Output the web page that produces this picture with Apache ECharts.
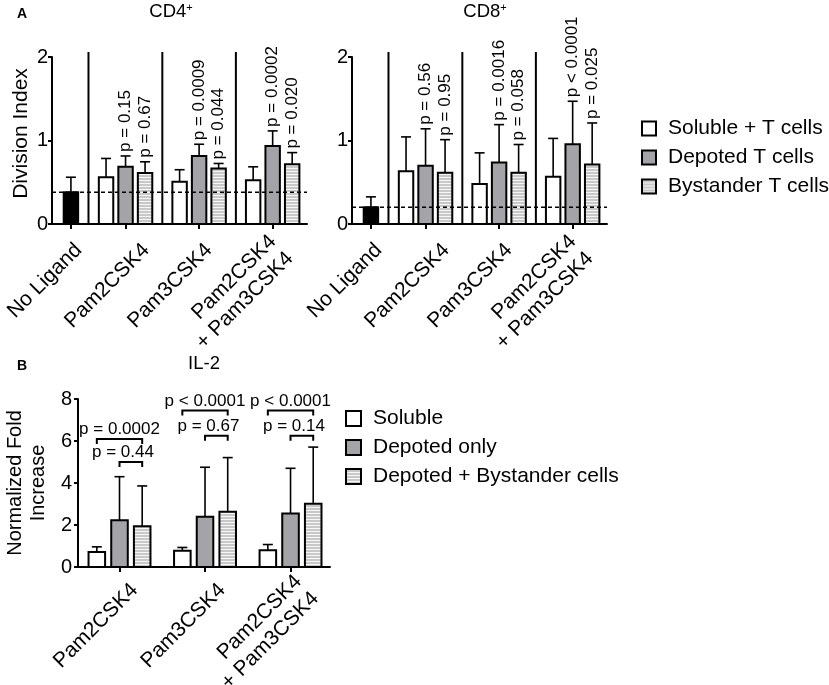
<!DOCTYPE html>
<html>
<head>
<meta charset="utf-8">
<script src="https://cdn.jsdelivr.net/npm/echarts@6.0.0/dist/echarts.min.js"></script>
<style>
html,body{margin:0;padding:0;background:#fff;}
#main{width:829px;height:685px;}
</style>
</head>
<body>
<div id="main"></div>
<script>
// 分组名称
var groupsA = ['Pam2CSK4', 'Pam3CSK4', 'Pam2CSK4\n+ Pam3CSK4'];
var groupsB = ['Pam2CSK4', 'Pam3CSK4', 'Pam2CSK4\n+ Pam3CSK4'];
var noLigandName = 'No Ligand';
var seriesNamesA = ['Soluble + T cells', 'Depoted T cells', 'Bystander T cells'];
var seriesNamesB = ['Soluble', 'Depoted only', 'Depoted + Bystander cells'];

// CD4+ division index: mean / sd
var cd4NoLigand = [0.38, 0.18];
var cd4Soluble = [0.56, 0.505, 0.525];
var cd4SolubleSd = [0.225, 0.145, 0.16];
var cd4Depoted = [0.685, 0.815, 0.935];
var cd4DepotedSd = [0.13, 0.14, 0.18];
var cd4Bystander = [0.61, 0.665, 0.715];
var cd4BystanderSd = [0.135, 0.06, 0.14];
var cd4Baseline = 0.38;
var cd4PDepoted = ['p = 0.15', 'p = 0.0009', 'p = 0.0002'];
var cd4PBystander = ['p = 0.67', 'p = 0.044', 'p = 0.020'];

// CD8+ division index
var cd8NoLigand = [0.2, 0.125];
var cd8Soluble = [0.633, 0.478, 0.565];
var cd8SolubleSd = [0.41, 0.374, 0.46];
var cd8Depoted = [0.697, 0.737, 0.956];
var cd8DepotedSd = [0.443, 0.453, 0.514];
var cd8Bystander = [0.613, 0.613, 0.713];
var cd8BystanderSd = [0.397, 0.339, 0.497];
var cd8Baseline = 0.2;
var cd8PDepoted = ['p = 0.56', 'p = 0.0016', 'p < 0.0001'];
var cd8PBystander = ['p = 0.95', 'p = 0.058', 'p = 0.025'];

// IL-2 normalized fold increase
var il2Soluble = [0.71, 0.77, 0.8];
var il2SolubleSd = [0.25, 0.16, 0.27];
var il2Depoted = [2.23, 2.39, 2.55];
var il2DepotedSd = [2.07, 2.36, 2.15];
var il2Bystander = [1.94, 2.63, 3.01];
var il2BystanderSd = [1.92, 2.58, 2.7];
var il2POuter = ['p = 0.0002', 'p < 0.0001', 'p < 0.0001'];
var il2PInner = ['p = 0.44', 'p = 0.67', 'p = 0.14'];
var il2BracketOuter = [6.1, 7.45, 7.45];
var il2BracketInner = [5.0, 6.25, 6.25];

var FONT = '"Liberation Sans", Arial, sans-serif';
var GRAY = '#a4a4a8';

// 条纹填充
var stripeCanvas = document.createElement('canvas');
stripeCanvas.width = 4;
stripeCanvas.height = 3;
var sctx = stripeCanvas.getContext('2d');
sctx.fillStyle = '#c8c8c8';
sctx.fillRect(0, 0, 4, 3);
sctx.fillStyle = '#f6f6f6';
sctx.fillRect(0, 0, 4, 1);
var STRIPE = {image: stripeCanvas, repeat: 'repeat'};

var fills = ['#ffffff', GRAY, STRIPE];

// 组中心位置
var groupStep = 3.77;
var centersA = [2.8, 2.8 + groupStep, 2.8 + 2 * groupStep];
var centersB = [0, groupStep, 2 * groupStep];
// 斜标签相对刻度的偏移
var labelShiftA = [0.4, 1.05, 0.5, 0.45];
var labelShiftB = [0.67, 0.76, 0.72];

/**
 * 柱子 + 误差线
 */
function barItem(fill, widthUnits, cap) {
	return function(params, api) {
		var x = api.value(0), m = api.value(1), sd = api.value(2);
		var base = api.coord([x, 0]);
		var top = api.coord([x, m]);
		var errTop = api.coord([x, m + sd]);
		var w = api.size([widthUnits, 0])[0];
		return {
			type: 'group',
			children: [
				{type: 'line', shape: {x1: top[0], y1: top[1], x2: errTop[0], y2: errTop[1]}, style: {stroke: '#000', lineWidth: 1.6}},
				{type: 'line', shape: {x1: errTop[0] - cap, y1: errTop[1], x2: errTop[0] + cap, y2: errTop[1]}, style: {stroke: '#000', lineWidth: 1.6}},
				{type: 'rect', shape: {x: top[0] - w / 2, y: top[1], width: w, height: base[1] - top[1]}, style: {fill: fill, stroke: '#000', lineWidth: 2}}
			]
		};
	};
}

function barSeries(name, idx, fill, means, sds, centers, offset, widthUnits) {
	var data = [];
	for (var i = 0; i < means.length; i++) {
		data.push([centers[i] + offset, means[i], sds[i]]);
	}
	return {
		type: 'custom', name: name, xAxisIndex: idx, yAxisIndex: idx, z: 2,
		itemStyle: {color: fill, borderColor: '#000', borderWidth: 2},
		encode: {x: 0, y: 1},
		renderItem: barItem(fill, widthUnits, 5),
		data: data
	};
}

function separatorSeries(idx, centers) {
	var seps = [(0 + centers[0] - 1) / 2];
	for (var i = 1; i < centers.length; i++) {
		seps.push((centers[i - 1] + 1 + centers[i] - 1) / 2);
	}
	return {
		type: 'custom', xAxisIndex: idx, yAxisIndex: idx, z: 3,
		encode: {x: 0},
		renderItem: function(params, api) {
			var p0 = api.coord([api.value(0), 0]);
			var p1 = api.coord([api.value(0), 2.06]);
			return {type: 'line', shape: {x1: p0[0], y1: p0[1], x2: p1[0], y2: p1[1]}, style: {stroke: '#000', lineWidth: 2}};
		},
		data: seps.map(function(v) { return [v]; })
	};
}

function baselineSeries(idx, value) {
	return {
		type: 'custom', xAxisIndex: idx, yAxisIndex: idx, z: 6,
		encode: {y: 1},
		renderItem: function(params, api) {
			var cs = params.coordSys;
			var p = api.coord([0, api.value(1)]);
			return {type: 'line', shape: {x1: cs.x, y1: p[1], x2: cs.x + cs.width, y2: p[1]},
				style: {stroke: '#000', lineWidth: 1.5, lineDash: [4, 3]}};
		},
		data: [[0, value]]
	};
}

function pLabelSeries(idx, centers, dep, depSd, bys, bysSd, pDep, pBys) {
	var data = [], texts = [];
	for (var i = 0; i < centers.length; i++) {
		data.push([centers[i], dep[i] + depSd[i]]);
		texts.push(pDep[i]);
		data.push([centers[i] + 1, bys[i] + bysSd[i]]);
		texts.push(pBys[i]);
	}
	return {
		type: 'custom', xAxisIndex: idx, yAxisIndex: idx, z: 4,
		encode: {x: 0, y: 1},
		renderItem: function(params, api) {
			var p = api.coord([api.value(0), api.value(1)]);
			return {
				type: 'text', x: p[0], y: p[1] - 4, rotation: Math.PI / 2,
				style: {text: texts[params.dataIndex], fill: '#000', fontSize: 17, fontFamily: FONT,
					align: 'left', verticalAlign: 'middle'}
			};
		},
		data: data
	};
}

function bracketSeries(centers) {
	var data = [], texts = [];
	for (var i = 0; i < centers.length; i++) {
		data.push([centers[i] - 1, centers[i] + 1, il2BracketOuter[i], centers[i]]);
		texts.push(il2POuter[i]);
		data.push([centers[i], centers[i] + 1, il2BracketInner[i], centers[i] + 0.15]);
		texts.push(il2PInner[i]);
	}
	return {
		type: 'custom', xAxisIndex: 2, yAxisIndex: 2, z: 4,
		encode: {x: [0, 1], y: 2},
		renderItem: function(params, api) {
			var a = api.coord([api.value(0), api.value(2)]);
			var b = api.coord([api.value(1), api.value(2)]);
			var t = api.coord([api.value(3), api.value(2)]);
			var tick = 5;
			return {
				type: 'group',
				children: [
					{type: 'polyline', shape: {points: [[a[0], a[1] + tick], [a[0], a[1]], [b[0], b[1]], [b[0], b[1] + tick]]},
						style: {stroke: '#000', lineWidth: 2, fill: null}},
					{type: 'text', x: t[0], y: a[1] - 1,
						style: {text: texts[params.dataIndex], fill: '#000', fontSize: 17, fontFamily: FONT,
							align: 'center', verticalAlign: 'bottom'}}
				]
			};
		},
		data: data
	};
}

function labelFormatter(values, names) {
	return function(v) {
		for (var i = 0; i < values.length; i++) {
			if (Math.abs(values[i] - v) < 1e-6) return names[i];
		}
		return '';
	};
}

var tickA = [0].concat(centersA);
var labelPosA = tickA.map(function(v, i) { return v + labelShiftA[i]; });
var namesA = [noLigandName].concat(groupsA);
var labelPosB = centersB.map(function(v, i) { return v + labelShiftB[i]; });

function xAxisA(gridIndex) {
	return {
		type: 'value', gridIndex: gridIndex, min: -0.97, max: 12.1,
		axisLine: {show: true, onZero: false, lineStyle: {color: '#000', width: 2}},
		axisTick: {show: true, customValues: tickA, length: 5, lineStyle: {color: '#000', width: 2}},
		axisLabel: {customValues: labelPosA, rotate: 45, margin: 23, fontSize: 21, fontFamily: FONT, color: '#000',
			lineHeight: 24, formatter: labelFormatter(labelPosA, namesA)},
		splitLine: {show: false}
	};
}

function yAxisA(gridIndex, withName) {
	return {
		type: 'value', gridIndex: gridIndex, min: 0, max: 2, interval: 1,
		name: withName ? 'Division Index' : '', nameLocation: 'middle', nameGap: 20,
		nameTextStyle: {fontSize: 21, fontFamily: FONT, color: '#000', padding: [0, 0, 0, 14]},
		axisLine: {show: true, onZero: false, lineStyle: {color: '#000', width: 2}},
		axisTick: {show: true, length: 4, lineStyle: {color: '#000', width: 2}},
		axisLabel: {margin: 4, fontSize: 20, fontFamily: FONT, color: '#000'},
		splitLine: {show: false}
	};
}

var dom = document.getElementById('main');
var myChart = echarts.init(dom, null, {renderer: 'canvas'});

var option = {
	animation: false,
	textStyle: {fontFamily: FONT, color: '#000'},
	grid: [
		{left: 52, top: 57, width: 255, height: 167, outerBoundsMode: 'none', containLabel: false},
		{left: 352, top: 57, width: 255, height: 167, outerBoundsMode: 'none', containLabel: false},
		{left: 78, top: 399, width: 252, height: 168, outerBoundsMode: 'none', containLabel: false}
	],
	xAxis: [
		xAxisA(0),
		xAxisA(1),
		{
			type: 'value', gridIndex: 2, min: -1.83, max: 9.28,
			axisLine: {show: true, onZero: false, lineStyle: {color: '#000', width: 2}},
			axisTick: {show: true, customValues: centersB, length: 5, lineStyle: {color: '#000', width: 2}},
			axisLabel: {customValues: labelPosB, rotate: 45, margin: 20, fontSize: 21, fontFamily: FONT, color: '#000',
				lineHeight: 24, formatter: labelFormatter(labelPosB, groupsB)},
			splitLine: {show: false}
		}
	],
	yAxis: [
		yAxisA(0, true),
		yAxisA(1, false),
		{
			type: 'value', gridIndex: 2, min: 0, max: 8, interval: 2,
			name: 'Normalized Fold\nIncrease', nameLocation: 'middle', nameGap: 28,
			nameTextStyle: {fontSize: 20, fontFamily: FONT, color: '#000', lineHeight: 23},
			axisLine: {show: true, onZero: false, lineStyle: {color: '#000', width: 2}},
			axisTick: {show: true, length: 4, lineStyle: {color: '#000', width: 2}},
			axisLabel: {margin: 6, fontSize: 20, fontFamily: FONT, color: '#000'},
			splitLine: {show: false}
		}
	],
	legend: [
		{
			orient: 'vertical', left: 641, top: 118, padding: 0, itemWidth: 14, itemHeight: 14, itemGap: 8,
			selectedMode: false, icon: 'rect',
			textStyle: {fontSize: 21, fontFamily: FONT, color: '#000', padding: [0, 0, 0, 7]},
			data: seriesNamesA.map(function(n, i) {
				return {name: n, itemStyle: {color: fills[i], borderColor: '#000', borderWidth: 2}};
			})
		},
		{
			orient: 'vertical', left: 345, top: 408, padding: 0, itemWidth: 15, itemHeight: 15, itemGap: 8,
			selectedMode: false, icon: 'rect',
			textStyle: {fontSize: 21, fontFamily: FONT, color: '#000', padding: [0, 0, 0, 7]},
			data: seriesNamesB.map(function(n, i) {
				return {name: n, itemStyle: {color: fills[i], borderColor: '#000', borderWidth: 2}};
			})
		}
	],
	graphic: [
		{type: 'text', x: 22, y: 14, style: {text: 'A', fontSize: 14, fontWeight: 'bold', fontFamily: FONT, fill: '#000', align: 'center', verticalAlign: 'middle'}},
		{type: 'text', x: 22, y: 366, style: {text: 'B', fontSize: 14, fontWeight: 'bold', fontFamily: FONT, fill: '#000', align: 'center', verticalAlign: 'middle'}},
		{type: 'text', x: 171, y: 12, style: {text: '{m|CD4}{s|+}', align: 'center', verticalAlign: 'middle', fill: '#000',
			rich: {m: {fontSize: 18.5, fontFamily: FONT}, s: {fontSize: 11, fontFamily: FONT, verticalAlign: 'top'}}}},
		{type: 'text', x: 485, y: 12, style: {text: '{m|CD8}{s|+}', align: 'center', verticalAlign: 'middle', fill: '#000',
			rich: {m: {fontSize: 18.5, fontFamily: FONT}, s: {fontSize: 11, fontFamily: FONT, verticalAlign: 'top'}}}},
		{type: 'text', x: 204, y: 364, style: {text: 'IL-2', fontSize: 18.5, fontFamily: FONT, fill: '#000', align: 'center', verticalAlign: 'middle'}}
	],
	series: [
		// CD4+
		{
			type: 'custom', xAxisIndex: 0, yAxisIndex: 0, z: 2, encode: {x: 0, y: 1},
			renderItem: barItem('#000', 0.74, 5), data: [[0, cd4NoLigand[0], cd4NoLigand[1]]]
		},
		barSeries(seriesNamesA[0], 0, fills[0], cd4Soluble, cd4SolubleSd, centersA, -1, 0.74),
		barSeries(seriesNamesA[1], 0, fills[1], cd4Depoted, cd4DepotedSd, centersA, 0, 0.74),
		barSeries(seriesNamesA[2], 0, fills[2], cd4Bystander, cd4BystanderSd, centersA, 1, 0.74),
		separatorSeries(0, centersA),
		baselineSeries(0, cd4Baseline),
		pLabelSeries(0, centersA, cd4Depoted, cd4DepotedSd, cd4Bystander, cd4BystanderSd, cd4PDepoted, cd4PBystander),
		// CD8+
		{
			type: 'custom', xAxisIndex: 1, yAxisIndex: 1, z: 2, encode: {x: 0, y: 1},
			renderItem: barItem('#000', 0.74, 5), data: [[0, cd8NoLigand[0], cd8NoLigand[1]]]
		},
		barSeries(seriesNamesA[0], 1, fills[0], cd8Soluble, cd8SolubleSd, centersA, -1, 0.74),
		barSeries(seriesNamesA[1], 1, fills[1], cd8Depoted, cd8DepotedSd, centersA, 0, 0.74),
		barSeries(seriesNamesA[2], 1, fills[2], cd8Bystander, cd8BystanderSd, centersA, 1, 0.74),
		separatorSeries(1, centersA),
		baselineSeries(1, cd8Baseline),
		pLabelSeries(1, centersA, cd8Depoted, cd8DepotedSd, cd8Bystander, cd8BystanderSd, cd8PDepoted, cd8PBystander),
		// IL-2
		barSeries(seriesNamesB[0], 2, fills[0], il2Soluble, il2SolubleSd, centersB, -1, 0.73),
		barSeries(seriesNamesB[1], 2, fills[1], il2Depoted, il2DepotedSd, centersB, 0, 0.73),
		barSeries(seriesNamesB[2], 2, fills[2], il2Bystander, il2BystanderSd, centersB, 1, 0.73),
		bracketSeries(centersB)
	]
};

if (option && typeof option === "object") {
	myChart.setOption(option, true);
}
</script>
</body>
</html>
